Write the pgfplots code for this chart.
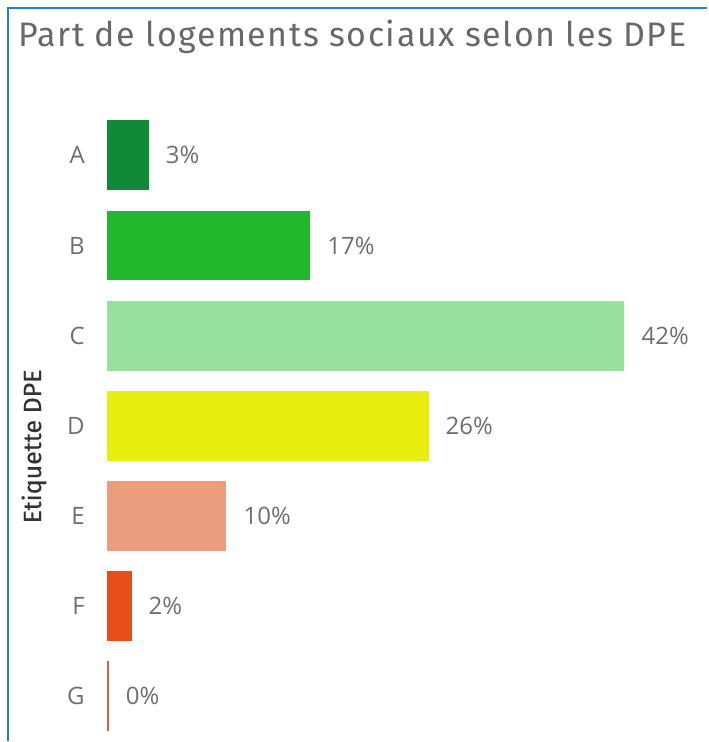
\documentclass[border=0pt]{standalone}
\usepackage{fontspec}
\setmainfont{Open Sans}
\newfontfamily\titlefont[LetterSpace=4.5]{Fira Sans}
\newfontfamily\labelfont[FakeBold=0.4]{Fira Sans}
\usepackage{pgfplots}
\pgfplotsset{compat=1.18}

\definecolor{frame}{HTML}{1F7FD0}
\definecolor{titlegray}{HTML}{686868}
\definecolor{tickgray}{HTML}{6E6E6E}
\definecolor{dpeA}{HTML}{108A38}
\definecolor{dpeB}{HTML}{22B82B}
\definecolor{dpeC}{HTML}{98E09D}
\definecolor{dpeD}{HTML}{E8EE0E}
\definecolor{dpeE}{HTML}{EB9D7E}
\definecolor{dpeF}{HTML}{E84E19}
\definecolor{dpeG}{HTML}{C8663A}

\begin{document}
\begin{tikzpicture}[x=1pt,y=1pt]
\path (0,0) rectangle (708,742);
\draw[line width=2pt, frame] (8,0) -- (8,734) -- (708,734);
\node[anchor=base west, inner sep=0, text=titlegray,
  font=\titlefont\fontsize{34}{40}\selectfont] at (18,695) {Part de logements sociaux selon les DPE};
\node[rotate=90, inner sep=0, text=black!80,
  font=\labelfont\fontsize{25}{30}\selectfont] at (34,295) {Etiquette DPE};
\begin{axis}[
    at={(107pt,0pt)}, anchor=south west,
    scale only axis,
    width=601pt, height=631.5pt,
    xbar, bar width=70pt, bar shift=0pt,
    xmin=0, xmax=48.7,
    ymin=-0.5, ymax=6.5,
    y dir=reverse,
    axis line style={draw=none},
    major tick length=0pt,
    xtick=\empty,
    ytick={0,1,2,3,4,5,6},
    yticklabels={A,B,C,D,E,F,G},
    yticklabel style={font=\fontsize{24}{28}\selectfont, text=tickgray, anchor=east, inner sep=0pt, xshift=-22pt},
    point meta=explicit symbolic,
    nodes near coords,
    every node near coord/.append style={font=\fontsize{24}{28}\selectfont, text=tickgray, anchor=west, inner sep=0pt, xshift=17pt},
]
\addplot[fill=dpeA, draw=none] coordinates {(3.4,0) [3\%]};
\addplot[fill=dpeB, draw=none] coordinates {(16.5,1) [17\%]};
\addplot[fill=dpeC, draw=none] coordinates {(42,2) [42\%]};
\addplot[fill=dpeD, draw=none] coordinates {(26.1,3) [26\%]};
\addplot[fill=dpeE, draw=none] coordinates {(9.7,4) [10\%]};
\addplot[fill=dpeF, draw=none] coordinates {(2.0,5) [2\%]};
\addplot[fill=dpeG, draw=none] coordinates {(0.15,6) [0\%]};
\end{axis}
\end{tikzpicture}
\end{document}
